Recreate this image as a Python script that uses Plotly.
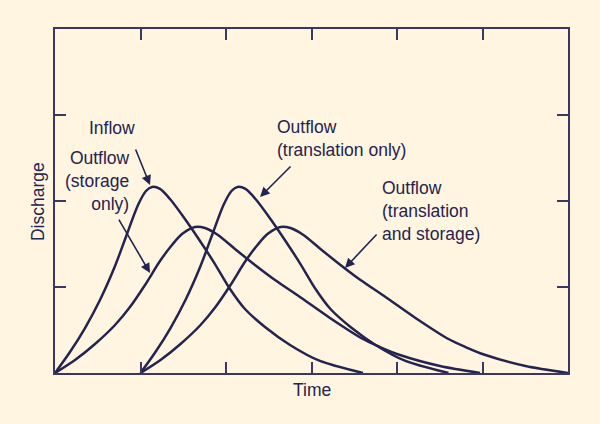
import plotly.graph_objects as go

# Data (x: time units, y: discharge units)
inflow_x = [0, 0.175, 0.351, 0.526, 0.702, 0.842, 0.971, 1.064, 1.135, 1.228, 1.345, 1.520, 1.696, 1.871, 2.047, 2.222, 2.456, 2.749, 3.099, 3.602]
inflow_y = [0, 0.244, 0.523, 0.849, 1.244, 1.616, 1.953, 2.116, 2.163, 2.140, 2.023, 1.791, 1.535, 1.267, 0.977, 0.744, 0.535, 0.326, 0.140, 0]

storage_x = [0, 0.234, 0.468, 0.702, 0.877, 1.053, 1.228, 1.368, 1.485, 1.637, 1.754, 1.906, 2.105, 2.339, 2.573, 2.865, 3.216, 3.602, 3.801, 4.035, 4.503, 4.971]
storage_y = [0, 0.151, 0.337, 0.558, 0.767, 1.023, 1.302, 1.488, 1.616, 1.698, 1.686, 1.605, 1.442, 1.256, 1.081, 0.884, 0.640, 0.395, 0.302, 0.209, 0.081, 0]

transl_x = [1, 1.175, 1.351, 1.526, 1.702, 1.842, 1.971, 2.064, 2.135, 2.228, 2.345, 2.520, 2.696, 2.871, 3.047, 3.222, 3.456, 3.749, 4.099, 4.602]
transl_y = [0, 0.244, 0.523, 0.849, 1.244, 1.616, 1.953, 2.116, 2.163, 2.140, 2.023, 1.791, 1.535, 1.267, 0.977, 0.744, 0.535, 0.326, 0.140, 0]

ts_x = [1, 1.234, 1.468, 1.702, 1.877, 2.053, 2.228, 2.368, 2.485, 2.637, 2.754, 2.906, 3.105, 3.339, 3.573, 3.865, 4.216, 4.602, 4.801, 5.035, 5.503, 6.0]
ts_y = [0, 0.151, 0.337, 0.558, 0.767, 1.023, 1.302, 1.488, 1.616, 1.698, 1.686, 1.605, 1.442, 1.256, 1.081, 0.884, 0.640, 0.395, 0.302, 0.209, 0.081, 0]

x_ticks = [1, 2, 3, 4, 5]
y_ticks = [1, 2, 3]

BG = "#FFF5E1"
INK = "#25234F"
AXC = "#3A3862"
FONT = "Liberation Sans, Arial, sans-serif"

fig = go.Figure()
for xs, ys in [(inflow_x, inflow_y), (storage_x, storage_y), (transl_x, transl_y), (ts_x, ts_y)]:
    fig.add_trace(go.Scatter(x=xs, y=ys, mode="lines",
                             line=dict(color=INK, width=2.5, shape="spline", smoothing=0.8),
                             hoverinfo="skip", showlegend=False, cliponaxis=True))

ann = []
textfont = dict(family=FONT, size=17.5, color=INK)
ann.append(dict(x=0.667, y=2.849, xref="x", yref="y", text="Inflow", showarrow=False,
                xanchor="center", yanchor="middle", font=textfont))
ann.append(dict(x=0.9, y=2.233, xref="x", yref="y", text="Outflow<br>(storage<br>only)",
                showarrow=False, xanchor="right", yanchor="middle", align="right", font=textfont))
ann.append(dict(x=2.57, y=2.721, xref="x", yref="y", text="Outflow<br>(translation only)",
                showarrow=False, xanchor="left", yanchor="middle", align="left", font=textfont))
ann.append(dict(x=3.80, y=1.884, xref="x", yref="y", text="Outflow<br>(translation<br>and storage)",
                showarrow=False, xanchor="left", yanchor="middle", align="left", font=textfont))

arrows = [((0.936, 2.616), (1.111, 2.186)),
          ((0.737, 1.802), (1.111, 1.163)),
          ((2.772, 2.419), (2.398, 2.047)),
          ((3.778, 1.628), (3.392, 1.221))]
for (tx, ty), (hx, hy) in arrows:
    ann.append(dict(x=hx, y=hy, ax=tx, ay=ty, xref="x", yref="y", axref="x", ayref="y",
                    text="", showarrow=True, arrowhead=2, arrowsize=1.2, arrowwidth=1.6,
                    arrowcolor=INK))

ann.append(dict(x=-0.033, y=0.497, xref="paper", yref="paper", text="Discharge", textangle=-90,
                showarrow=False, xanchor="center", yanchor="middle", font=textfont))
ann.append(dict(x=0.501, y=-0.049, xref="paper", yref="paper", text="Time",
                showarrow=False, xanchor="center", yanchor="middle", font=textfont))

axis_common = dict(showgrid=False, zeroline=False, showticklabels=False, showline=True,
                   linecolor=AXC, linewidth=2, mirror="ticks", ticks="inside",
                   ticklen=11, tickwidth=2, tickcolor=AXC, fixedrange=True)

fig.update_layout(
    width=600, height=424,
    margin=dict(l=55, r=32, t=29, b=51),
    paper_bgcolor=BG, plot_bgcolor=BG,
    xaxis=dict(range=[0, 6], tickvals=x_ticks, **axis_common),
    yaxis=dict(range=[0, 4], tickvals=y_ticks, **axis_common),
    annotations=ann,
    showlegend=False,
)

fig.write_html("out.html", config={"displayModeBar": False})
